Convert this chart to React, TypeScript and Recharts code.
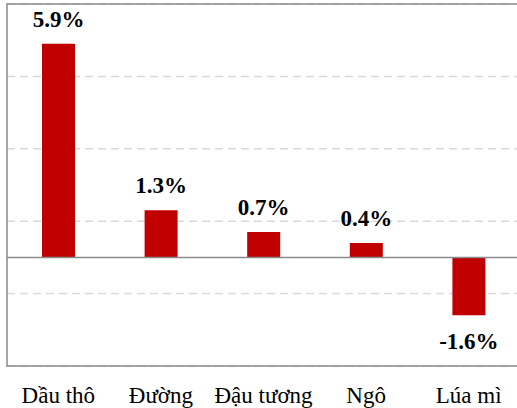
import { Bar, BarChart, CartesianGrid, LabelList, ReferenceArea, ReferenceLine, XAxis, YAxis } from 'recharts';

const categories = ['Dầu thô', 'Đường', 'Đậu tương', 'Ngô', 'Lúa mì'];
const changes = [5.9, 1.3, 0.7, 0.4, -1.6];
const yTicks = [-3, -1, 1, 3, 5, 7];

const data = categories.map((name, i) => ({ name, value: changes[i] }));

const FONT = "'Liberation Serif', 'Times New Roman', serif";

function CategoryTick(props: any) {
  const { x, y, payload } = props;
  return (
    <text x={x} y={y + 29} textAnchor="middle" fill="#000" style={{ fontSize: 23, fontFamily: FONT }}>
      {payload.value}
    </text>
  );
}

function ValueLabel(props: any) {
  const { x, y, width, height, value } = props;
  const top = Math.min(y, y + height);
  const bottom = Math.max(y, y + height);
  const ty = value >= 0 ? top - 17 : bottom + 34;
  return (
    <text x={x + width / 2} y={ty} textAnchor="middle" fill="#000" style={{ fontSize: 23, fontWeight: 'bold', fontFamily: FONT }}>
      {`${value}%`}
    </text>
  );
}

export default function App() {
  return (
    <div style={{ position: 'absolute', left: 0, top: 0, width: 517, height: 408, overflow: 'hidden', background: '#fff' }}>
      <BarChart width={530} height={408} data={data} margin={{ top: 4, right: 10, bottom: 12, left: 7 }}>
        <CartesianGrid vertical={false} stroke="#d9d9d9" strokeDasharray="8 5" strokeWidth={1.5} />
        <XAxis dataKey="name" axisLine={false} tickLine={false} interval={0} height={30} tick={<CategoryTick />} />
        <YAxis hide domain={[-3, 7]} ticks={yTicks} type="number" />
        <ReferenceArea y1={-3} y2={7} fill="none" stroke="#8a8a8a" strokeWidth={1.5} ifOverflow="extendDomain" />
        <ReferenceLine y={0} stroke="#8a8a8a" strokeWidth={1.5} />
        <Bar dataKey="value" fill="#c00000" barSize={33} isAnimationActive={false}>
          <LabelList dataKey="value" content={<ValueLabel />} />
        </Bar>
      </BarChart>
    </div>
  );
}
